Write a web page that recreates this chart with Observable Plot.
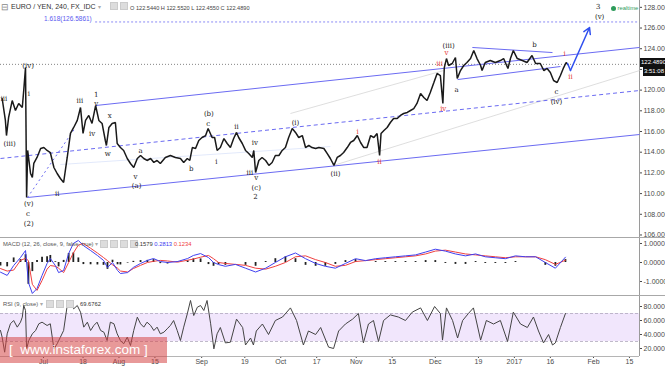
<!DOCTYPE html>
<html><head><meta charset="utf-8">
<script src="https://cdn.jsdelivr.net/npm/d3@7"></script>
<script src="https://cdn.jsdelivr.net/npm/@observablehq/plot@0.6"></script>
<style>
body{margin:0;background:#fff;}
#wrap{position:relative;width:665px;height:366px;overflow:hidden;font-family:"Liberation Sans",Arial,sans-serif;color:#333;}
.abs{position:absolute;white-space:nowrap;}
.ico{display:inline-block;width:6px;height:6px;background:#ddd;border:1px solid #ccc;margin-right:2px;vertical-align:middle;}
</style></head>
<body><div id="wrap"></div>
<script>
// ---------- data ----------
// trading-day index (0 = 1 Jul 2016) and EUR/JPY price
const priceDay = [-11.5,-10.6,-10.3,-9.7,-8.7,-7.8,-6.9,-5.9,-5.5,-5.0,-4.7,-4.4,-3.6,-3.1,-2.7,-1.8,-0.8,0.1,1.0,1.9,2.9,3.8,4.7,5.6,6.6,7.5,8.4,9.4,10.3,11.0,11.7,12.6,13.5,14.5,15.4,16.3,17.2,17.5,18.2,19.1,20.0,20.5,21.4,22.3,23.3,24.2,25.1,26.1,27.0,27.9,28.8,29.8,30.7,31.6,32.5,
33.9,35.3,36.7,38.1,39.0,40.0,40.7,41.4,42.3,43.2,44.1,45.1,45.8,46.9,47.6,48.3,49.2,50.2,51.1,52.0,52.9,53.7,54.3,55.3,56.2,57.1,58.1,58.5,59.0,59.9,60.8,61.8,62.7,63.6,64.5,65.5,66.4,67.3,68.2,69.2,70.1,71.0,72.0,72.9,73.8,74.7,75.7,76.6,
78.0,78.9,79.8,80.8,81.7,82.6,83.5,84.5,85.4,86.3,87.3,88.2,89.1,90.0,91.0,91.9,92.8,93.5,93.9,94.7,95.6,96.5,97.4,98.4,99.3,100.2,101.2,102.1,103.0,103.9,104.9,105.8,106.7,107.6,108.6,109.5,110.4,111.1,111.5,112.1,112.7,113.7,114.6,115.1,116.0,116.9,117.8,118.8,119.7,
120.6,121.6,122.0,122.9,124.3,125.7,127.1,128.0,129.2,129.9,130.7,131.8,133.2,134.5,135.9,136.9,138.2,139.2,140.1,141.0,141.9,142.9,143.8,144.7,145.4,145.8];
const priceClose = [119.19,117.07,115.61,117.36,118.99,118.03,118.71,118.32,119.96,122.18,109.62,114.17,111.94,111.56,112.91,113.49,114.36,114.45,114.17,113.97,112.52,111.94,111.46,111.07,113.49,115.81,116.39,117.07,118.32,115.81,117.07,117.55,116.78,118.51,117.07,116.78,115.13,114.65,116.39,116.78,116.87,114.84,114.45,114.17,113.39,112.91,112.52,113.39,113.68,113.39,113.20,113.39,113.01,113.20,112.91,
113.49,113.68,113.49,113.39,113.01,113.39,113.20,114.45,114.36,115.13,115.42,115.61,116.29,115.42,115.42,114.17,114.45,115.32,114.84,114.45,115.32,115.91,115.42,114.84,114.17,113.88,113.49,114.17,112.04,113.20,113.49,113.20,112.72,113.01,113.68,113.68,114.17,114.45,115.42,116.29,115.91,115.42,115.61,114.45,114.65,114.45,114.36,114.45,
114.36,113.88,113.39,112.72,113.49,113.68,113.97,114.45,114.94,115.13,115.61,114.94,114.45,114.45,115.61,115.42,115.81,113.68,115.81,116.10,116.39,116.87,117.26,117.26,117.55,117.74,117.84,118.03,118.22,118.71,119.67,119.29,118.99,119.77,120.73,121.61,121.41,118.71,122.18,123.05,122.38,122.57,123.15,121.12,121.89,122.38,122.67,123.05,123.83,
123.05,122.38,121.89,122.67,122.86,122.67,122.86,123.05,122.09,123.05,123.83,123.05,122.86,122.67,123.35,122.57,122.57,121.89,122.09,121.70,120.93,120.73,121.41,122.18,122.67,122.49];
const lastClose = 122.489;
const fibLevel = 126.5861;

// MACD (12,26,9)
const macdDay = [-11.96,-10.1,-8.3,-6.4,-5.0,-4.2,-3.1,-1.8,-0.4,1.0,1.9,3.3,4.2,5.6,7.0,8.3,9.7,11.1,13.1,15.0,16.7,17.8,19.2,20.6,21.4,23.4,25.0,27.0,28.9,30.6,32.5,34.5,37.3,40.1,41.7,43.7,45.9,47.3,48.7,
50.6,53.4,56.2,59.0,61.8,64.5,67.3,70.1,72.9,75.7,78.4,81.2,84.0,86.8,89.6,92.4,95.1,97.9,100.7,103.5,106.3,109.0,111.8,114.6,117.4,120.2,122.9,125.7,128.5,131.3,134.1,136.9,139.6,142.4,145.2];
const macdLine = [-0.51,-0.68,-0.16,0.26,0.63,-1.05,-1.63,-1.37,-0.68,-0.05,0.21,-0.16,-0.53,-0.42,0.47,1.0,1.16,0.89,0.63,0.37,0.11,-0.26,0,-0.42,-0.58,-0.53,-0.26,-0.05,0.11,0.21,0.05,0,0.05,0.21,0.37,0.47,0.26,0,-0.11,
-0.2,-0.1,-0.3,-0.5,-0.3,0.0,0.3,0.5,0.2,-0.05,-0.2,-0.3,-0.05,0.2,0.1,0.2,0.25,0.3,0.35,0.4,0.55,0.7,0.6,0.45,0.35,0.45,0.3,0.25,0.2,0.35,0.3,0.3,0.0,-0.3,0.28];
const macdSignal = [-0.32,-0.45,-0.4,0.11,0.22,0.1,-1.15,-1.47,-0.95,-0.35,-0.16,-0.2,-0.3,-0.53,0.0,0.5,0.92,1.0,0.75,0.5,0.26,0.1,-0.12,-0.3,-0.45,-0.5,-0.32,-0.15,0.0,0.06,0.11,0.08,0.02,0.12,0.18,0.28,0.37,0.2,0.0,
-0.05,-0.1,-0.15,-0.3,-0.35,-0.2,0.0,0.3,0.35,0.15,0.0,-0.2,-0.15,0.05,0.1,0.15,0.2,0.25,0.3,0.35,0.45,0.6,0.65,0.55,0.45,0.4,0.35,0.3,0.25,0.3,0.3,0.3,0.15,-0.1,0.12];
const macdHist = [-0.19,-0.23,0.24,0.15,0.41,-1.15,-0.48,0.10,0.27,0.30,0.37,0.04,-0.23,0.11,0.47,0.50,0.24,-0.11,-0.12,-0.13,-0.15,-0.36,0.12,-0.12,-0.13,-0.03,0.06,0.10,0.11,0.15,-0.06,-0.08,0.03,0.09,0.19,0.19,-0.11,-0.20,-0.11,
-0.15,0.0,-0.15,-0.2,0.05,0.2,0.3,0.2,-0.15,-0.2,-0.2,-0.1,0.1,0.15,0.0,0.05,0.05,0.05,0.05,0.05,0.1,0.1,-0.05,-0.1,-0.1,0.05,-0.05,-0.05,-0.05,0.05,0.0,0.0,-0.15,-0.2,0.16];

// RSI (9)
const rsiDay = [-11.96,-11.5,-10.8,-10.1,-9.2,-8.3,-7.3,-6.4,-5.9,-5.5,-5.0,-4.7,-4.1,-3.1,-2.2,-1.3,-0.4,1.0,1.9,2.9,3.8,4.7,5.6,6.6,7.5,8.4,9.4,10.3,11.2,12.2,13.1,14.0,14.9,15.9,16.8,17.7,18.6,19.6,20.5,21.4,22.3,23.3,24.2,25.1,26.1,27.0,27.9,28.8,29.8,30.7,31.6,32.5,33.5,34.4,35.3,36.2,37.2,38.1,39.0,40.0,40.9,41.8,42.8,43.7,44.6,45.5,46.5,47.4,48.3,
49.2,50.6,52.0,53.7,55.4,56.2,57.6,58.4,59.2,60.9,62.6,64.5,66.5,68.7,70.4,72.3,73.7,75.7,77.1,79.3,80.7,82.1,84.0,86.0,87.6,89.0,90.4,91.8,93.2,94.6,96.5,98.7,100.7,102.6,104.9,106.8,108.8,110.4,111.0,112.1,113.8,115.2,116.6,118.2,119.6,121.6,123.2,125.2,127.1,129.1,130.7,132.7,134.6,136.3,137.7,139.1,140.5,141.6,142.4,143.8,145.2];
const rsiValue = [45.7,36.2,14.7,41,55.3,60,50.5,57.6,64.8,81.4,74.3,19.5,31.4,41,45.7,55.3,57.6,52.9,55.3,19.5,26.7,36.2,45.7,81.4,86.2,76.7,81.4,71.9,50.5,57.6,45.7,52.9,57.6,45.7,43.3,31.4,57.6,55.3,41,31.4,26.7,36.2,24.3,45.7,64.8,55.3,50.5,57.6,52.9,45.7,50.5,41,43.3,48.1,52.9,60,45.7,31.4,50.5,69.5,88.6,67.1,79,81.4,74.3,88.6,55.3,19.5,41,
50,28,29,62,50,25,35,25,45,55,40,60,65,78,60,25,45,40,50,22,20,45,55,62,70,28,55,60,30,60,68,65,60,72,78,60,80,70,32,78,60,35,60,70,78,32,60,55,60,30,72,55,50,65,45,28,40,25,28,50,70];
const rsiBand = [30, 70];

// x-axis ticks
const tickDays = [0,11,21,31,44,56,66,76,87,97,109,121,131,141,153,163];
const tickLabels = ["Jul","18","Aug","15","Sep","19","Oct","17","Nov","15","Dec","19","2017","16","Feb","15"];
const priceTicks = [106,108,110,112,114,116,118,120,122,124,126,128];
const macdTicks = [-1,0,1];
const rsiTicks = [20,40,60,80];

// Elliott wave labels (day, price)
const waveLabels = [
 {t:"(iv)",d:-4.3,p:122.38},{t:"iii",d:-11.0,p:119.19},{t:"(iii)",d:-9.4,p:114.84},{t:"i",d:-4.1,p:119.67},
 {t:"(v)",d:-4.1,p:109.04},{t:"c",d:-4.3,p:108.08},{t:"(2)",d:-4.1,p:107.11},{t:"ii",d:3.8,p:110.01},
 {t:"iii",d:10.1,p:118.99},{t:"1",d:14.7,p:119.58},{t:"v",d:14.7,p:118.71},{t:"iv",d:13.5,p:115.81},
 {t:"x",d:18.4,p:117.55},{t:"w",d:17.9,p:113.88},{t:"a",d:27.0,p:114.17},{t:"v",d:25.6,p:111.65},
 {t:"(a)",d:25.9,p:110.78},{t:"b",d:41.1,p:112.43},{t:"(b)",d:46.0,p:117.74},{t:"c",d:45.8,p:116.77},
 {t:"i",d:48.1,p:113.10},{t:"ii",d:53.7,p:116.48},{t:"iv",d:58.8,p:114.94},{t:"iii",d:57.4,p:112.04},
 {t:"v",d:59.2,p:111.56},{t:"(c)",d:59.2,p:110.59},{t:"2",d:59.0,p:109.72},{t:"(i)",d:70.1,p:116.87},
 {t:"(ii)",d:81.2,p:111.94},{t:"(iii)",d:112.7,p:124.31},{t:"a",d:114.9,p:120.06},{t:"b",d:136.6,p:124.41},
 {t:"c",d:142.7,p:119.86},{t:"(iv)",d:142.7,p:118.90},{t:"3",d:154.3,p:128.08},{t:"(v)",d:154.7,p:127.11}
];
const redLabels = [
 {t:"i",d:87.4,p:116.00},{t:"ii",d:93.5,p:113.10},{t:"iii",d:110.2,p:122.57},{t:"iv",d:111.2,p:118.22},
 {t:"v",d:112.1,p:123.63},{t:"i",d:145.0,p:123.54},{t:"ii",d:146.6,p:121.31}
];
// trend lines (day, price)
const channelSolid = [
 {x1:-4.45,y1:109.62,x2:165.8,y2:115.71},
 {x1:14.5,y1:118.51,x2:165.8,y2:124.12},
 {x1:119.3,y1:124.12,x2:141.6,y2:123.63},
 {x1:115.2,y1:121.02,x2:143.8,y2:122.28}
];
const channelDashed = [{x1:-11.96,y1:113.39,x2:165.8,y2:119.96}];
const channelDotted = [{x1:-4.45,y1:109.62,x2:8.9,y2:116.39}];
const greyLines = [
 {x1:80.7,y1:112.72,x2:165.8,y2:121.89},
 {x1:68.7,y1:117.74,x2:111.3,y2:121.89}
];
const paleLines = [{x1:4.7,y1:112.81,x2:79.8,y2:114.55}];
const projection = [{d:145.8,p:122.57},{d:146.6,p:121.89}];
const projectionArrow = [{x1:146.6,y1:121.89,x2:151.9,y2:126.05}];

// ---------- drawing ----------
const xDomain = [-11.96, 165.8];
const FONT = "Liberation Sans, Arial, sans-serif";
const wrap = document.getElementById("wrap");
const baseStyle = {fontFamily:FONT, fontSize:"7px", color:"#4a4a4a", background:"transparent", overflow:"hidden"};
const blue = "#6b6bf2";

const priceData = priceDay.map((d,i)=>({d, p:priceClose[i]}));
const pricePlot = Plot.plot({
  width:665, height:238, marginTop:0, marginBottom:0, marginLeft:0, marginRight:26,
  x:{domain:xDomain, axis:null}, y:{domain:[105.66,128.66]},
  style:baseStyle,
  marks:[
    Plot.axisY({anchor:"right", ticks:priceTicks, tickFormat:d=>d.toFixed(4), tickSize:2, tickPadding:2, label:null}),
    Plot.ruleX([xDomain[1]], {stroke:"#9a9a9a"}),
    Plot.link(paleLines, {x1:"x1",y1:"y1",x2:"x2",y2:"y2", stroke:"#dfe6fb", strokeWidth:0.9}),
    Plot.link(greyLines, {x1:"x1",y1:"y1",x2:"x2",y2:"y2", stroke:"#d6d6d6", strokeWidth:0.8}),
    Plot.ruleY([lastClose], {stroke:"#666", strokeDasharray:"1,2", strokeWidth:0.8}),
    Plot.ruleY([fibLevel], {x1:14.5, x2:xDomain[1], stroke:"#8a8af5", strokeDasharray:"2,2", strokeWidth:1}),
    Plot.text([fibLevel], {x:6.8, y:d=>d, text:d=>`1.618(${d.toFixed(4)})`, fill:"#5b5bef", fontSize:6.5, dy:-3}),
    Plot.link(channelSolid, {x1:"x1",y1:"y1",x2:"x2",y2:"y2", stroke:blue, strokeWidth:1}),
    Plot.link(channelDashed, {x1:"x1",y1:"y1",x2:"x2",y2:"y2", stroke:blue, strokeWidth:1, strokeDasharray:"4,3"}),
    Plot.link(channelDotted, {x1:"x1",y1:"y1",x2:"x2",y2:"y2", stroke:blue, strokeWidth:1, strokeDasharray:"2,3"}),
    Plot.line(priceData, {x:"d", y:"p", stroke:"#1a1a1a", strokeWidth:1.5, strokeLinejoin:"miter"}),
    Plot.line(projection, {x:"d", y:"p", stroke:"#2f4fef", strokeWidth:1.5}),
    Plot.arrow(projectionArrow, {x1:"x1",y1:"y1",x2:"x2",y2:"y2", stroke:"#2f4fef", strokeWidth:1.5, headLength:7}),
    Plot.text(waveLabels, {x:"d", y:"p", text:"t", fill:"#222", fontSize:7, fontFamily:"DejaVu Serif, serif"}),
    Plot.text(redLabels, {x:"d", y:"p", text:"t", fill:"#e53935", fontSize:7, fontFamily:"DejaVu Serif, serif"})
  ]
});
pricePlot.style.position="absolute"; pricePlot.style.left="0px"; pricePlot.style.top="0px";
wrap.appendChild(pricePlot);

const macdData = macdDay.map((d,i)=>({d, m:macdLine[i], s:macdSignal[i], h:macdHist[i]}));
const macdPlot = Plot.plot({
  width:665, height:58, marginTop:0, marginBottom:0, marginLeft:0, marginRight:26,
  x:{domain:xDomain, axis:null}, y:{domain:[-1.79,1.263]},
  style:baseStyle,
  marks:[
    Plot.axisY({anchor:"right", ticks:macdTicks, tickFormat:d=>d.toFixed(4), tickSize:2, tickPadding:2, label:null}),
    Plot.ruleX([xDomain[1]], {stroke:"#9a9a9a"}),
    Plot.ruleX(macdData, {x:"d", y1:0, y2:"h", stroke:"#222", strokeWidth:1.8}),
    Plot.line(macdData, {x:"d", y:"s", stroke:"#f04040", strokeWidth:1}),
    Plot.line(macdData, {x:"d", y:"m", stroke:"#4040f0", strokeWidth:1})
  ]
});
macdPlot.style.position="absolute"; macdPlot.style.left="0px"; macdPlot.style.top="238px";
wrap.appendChild(macdPlot);

const rsiData = rsiDay.map((d,i)=>({d, r:rsiValue[i]}));
const tickMap = new Map(tickDays.map((d,i)=>[d, tickLabels[i]]));
const rsiPlot = Plot.plot({
  width:665, height:70, marginTop:0, marginBottom:10, marginLeft:0, marginRight:26,
  x:{domain:xDomain}, y:{domain:[8.57,94.29]},
  style:baseStyle,
  marks:[
    Plot.rect([rsiBand], {x1:xDomain[0], x2:xDomain[1], y1:d=>d[0], y2:d=>d[1], fill:"#f1e6fc"}),
    Plot.ruleY(rsiBand, {stroke:"#b0a8bc", strokeDasharray:"3,2", strokeWidth:0.8}),
    Plot.axisY({anchor:"right", ticks:rsiTicks, tickFormat:d=>d.toFixed(4), tickSize:2, tickPadding:2, label:null}),
    Plot.axisX({anchor:"bottom", ticks:tickDays, tickFormat:d=>tickMap.get(d), tickSize:2, tickPadding:1, label:null}),
    Plot.ruleY([8.57], {stroke:"#b5b5b5"}),
    Plot.ruleX([xDomain[1]], {stroke:"#9a9a9a"}),
    Plot.line(rsiData, {x:"d", y:"r", stroke:"#444", strokeWidth:1})
  ]
});
rsiPlot.style.position="absolute"; rsiPlot.style.left="0px"; rsiPlot.style.top="296px";
wrap.appendChild(rsiPlot);

// ---------- overlays ----------
function add(html, css){const e=document.createElement("div");e.className="abs";e.innerHTML=html;Object.assign(e.style,css);wrap.appendChild(e);return e;}
add("", {left:"0px",top:"237px",width:"665px",height:"1px",background:"#a8a8a8"});
add("", {left:"0px",top:"295px",width:"665px",height:"1px",background:"#a8a8a8"});
add("&#8863;", {left:"1px",top:"2px",fontSize:"9px",color:"#888"});
add("EURO / YEN, 240, FX_IDC <span style='color:#aaa;font-size:6px'>&#9662;</span>", {left:"11px",top:"3px",fontSize:"7px",color:"#333"});
add("<span class='ico'></span><span class='ico'></span>", {left:"110px",top:"2px",fontSize:"6px"});
add("O 122.5440 H 122.5520 L 122.4550 C 122.4890", {left:"130px",top:"4.5px",fontSize:"5.6px",color:"#444"});
add("<span style='display:inline-block;width:5px;height:5px;border-radius:50%;background:#2e9b5b;vertical-align:middle'></span> realtime", {left:"611px",top:"5px",fontSize:"5.8px",color:"#2e9b5b"});
add("122.4890", {left:"640px",top:"58px",width:"25px",height:"9px",lineHeight:"9px",background:"#111",color:"#fff",fontSize:"6px",paddingLeft:"1px"});
add("3:51:08", {left:"643px",top:"67px",width:"22px",height:"9px",lineHeight:"9px",background:"#111",color:"#fff",fontSize:"6px",paddingLeft:"1px"});
add("MACD (12, 26, close, 9, false, true) <span style='color:#aaa'>&#9662;</span>", {left:"3px",top:"241px",fontSize:"5.8px",color:"#555"});
add("<span class='ico'></span><span class='ico'></span><span class='ico'></span><span class='ico'></span>", {left:"100px",top:"240px",fontSize:"6px"});
add("<span style='color:#333'>0.1579</span> <span style='color:#3a3af0'>0.2813</span> <span style='color:#f04040'>0.1234</span>", {left:"135px",top:"241px",fontSize:"5.8px"});
add("RSI (9, close) <span style='color:#aaa'>&#9662;</span>", {left:"3px",top:"301px",fontSize:"5.8px",color:"#555"});
add("<span class='ico'></span><span class='ico'></span><span class='ico'></span>", {left:"46px",top:"300px",fontSize:"6px"});
add("69.6762", {left:"80px",top:"301px",fontSize:"5.8px",color:"#333"});
add("[ &nbsp;www.instaforex.com ]", {left:"0px",top:"337px",width:"167px",height:"26px",lineHeight:"26px",background:"rgba(214,70,70,0.55)",color:"#fff",fontSize:"13.5px",paddingLeft:"9px",boxSizing:"border-box"});
</script>
</body></html>
